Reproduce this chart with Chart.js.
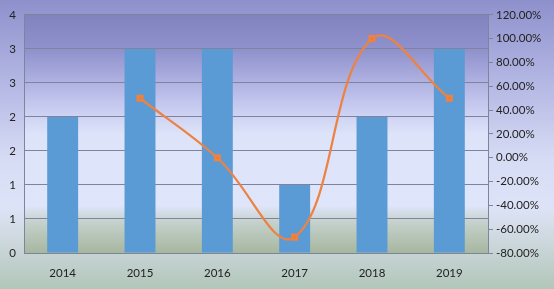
<!DOCTYPE html>
<html>
<head>
<meta charset="utf-8">
<script src="https://cdn.jsdelivr.net/npm/chart.js@4"></script>
<style>
  html, body { margin: 0; padding: 0; background: #fff; }
  #wrap { width: 554px; height: 289px; }
</style>
</head>
<body>
<div id="wrap"><canvas id="chart" width="554" height="289"></canvas></div>
<script>
// chart data
const years = ['2014', '2015', '2016', '2017', '2018', '2019'];
const counts = [2, 3, 3, 1, 2, 3];
const growth = [null, 50, 0, -66.67, 100, 50];   // percent

const axisFont = { family: 'Lato', size: 11.5 };
const gridColor = '#7f849c';

// gradients behind the whole chart and behind the plot area
const backdrop = {
    id: 'backdrop',
    beforeDraw(chart) {
        const { ctx, width, height, chartArea: a } = chart;
        ctx.save();
        let g = ctx.createLinearGradient(0, 0, 0, height);
        g.addColorStop(0, '#8e90cc');
        g.addColorStop(0.35, '#bcc0e8');
        g.addColorStop(0.55, '#d6dcf4');
        g.addColorStop(0.72, '#dde3f7');
        g.addColorStop(0.82, '#cfd9e0');
        g.addColorStop(1, '#b2c6b9');
        ctx.fillStyle = g;
        ctx.fillRect(0, 0, width, height);

        g = ctx.createLinearGradient(0, a.top, 0, a.bottom);
        g.addColorStop(0, '#8182be');
        g.addColorStop(0.15, '#9092cd');
        g.addColorStop(0.38, '#c6c9ef');
        g.addColorStop(0.5, '#dde3f9');
        g.addColorStop(0.8, '#dfe6fb');
        g.addColorStop(0.87, '#c5d1cc');
        g.addColorStop(1, '#a6b79f');
        ctx.fillStyle = g;
        ctx.fillRect(a.left, a.top, a.right - a.left, a.bottom - a.top);
        ctx.restore();
    }
};

new Chart(document.getElementById('chart'), {
    data: {
        labels: years,
        datasets: [
            {
                type: 'line',
                data: growth,
                yAxisID: 'y1',
                borderColor: '#ec8243',
                backgroundColor: '#ed7d31',
                borderWidth: 2.25,
                tension: 0.4,
                pointStyle: 'rect',
                pointRadius: 3.5,
                order: 0
            },
            {
                type: 'bar',
                data: counts,
                yAxisID: 'y',
                backgroundColor: '#5b9bd5',
                categoryPercentage: 1,
                barPercentage: 0.4,
                order: 1
            }
        ]
    },
    options: {
        responsive: false,
        animation: false,
        layout: { padding: { top: 13 } },
        plugins: { legend: { display: false }, tooltip: { enabled: false } },
        scales: {
            x: {
                grid: { display: false },
                border: { color: gridColor },
                ticks: { color: '#222', font: axisFont, padding: 5 },
                afterFit: (s) => { s.height = 36; }
            },
            y: {
                position: 'left',
                min: 0,
                max: 3.5,
                grid: { color: gridColor, drawTicks: false },
                border: { color: gridColor },
                ticks: {
                    stepSize: 0.5,
                    color: '#222',
                    font: axisFont,
                    padding: 8,
                    callback: (v) => Math.round(v)
                },
                afterFit: (s) => { s.width = 24; }
            },
            y1: {
                position: 'right',
                min: -80,
                max: 120,
                grid: { drawOnChartArea: false, color: gridColor, tickLength: 5 },
                border: { color: gridColor },
                ticks: {
                    stepSize: 20,
                    color: '#222',
                    font: axisFont,
                    padding: 3,
                    callback: (v) => v.toFixed(2) + '%'
                },
                afterFit: (s) => { s.width = 66; }
            }
        }
    },
    plugins: [backdrop]
});
</script>
</body>
</html>
